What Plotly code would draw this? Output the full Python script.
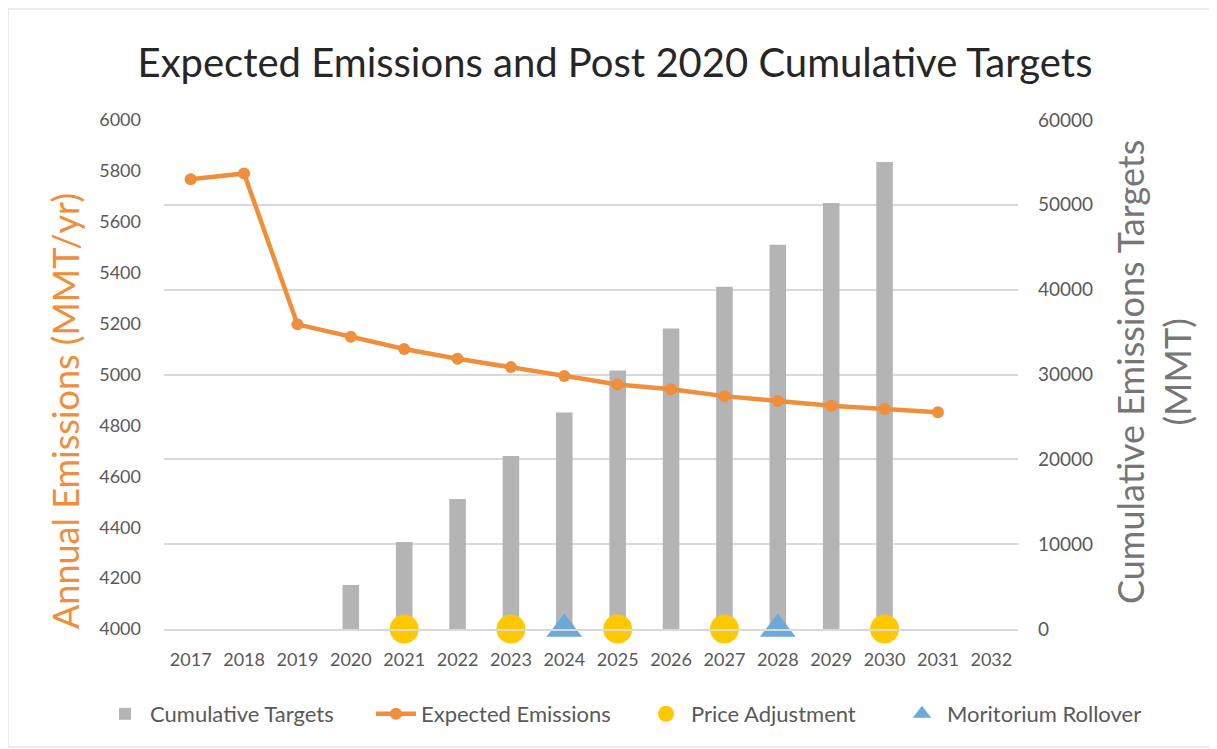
import plotly.graph_objects as go

years = [str(y) for y in range(2017, 2033)]

bar_years = ["2020", "2021", "2022", "2023", "2024", "2025", "2026", "2027", "2028", "2029", "2030"]
cumulative_targets = [5190, 10260, 15330, 20400, 25520, 30480, 35430, 40340, 45290, 50210, 55050]

line_years = [str(y) for y in range(2017, 2032)]
expected_emissions = [5767, 5790, 5197, 5148, 5100, 5062, 5029, 4994, 4961, 4942, 4915, 4896, 4877, 4864, 4852]

price_years = ["2021", "2023", "2025", "2027", "2030"]
price_vals = [4000, 4000, 4000, 4000, 4000]

rollover_years = ["2024", "2028"]
rollover_vals = [4000, 4000]

left_ticks = list(range(4000, 6001, 200))
right_ticks = list(range(0, 60001, 10000))

FONT = "Lato"
ORANGE = "#EF8E3B"
GRAY_BAR = "#B4B4B4"
YELLOW = "#FFC800"
BLUE = "#6AA9D8"
TICK = "#595959"

fig = go.Figure()

fig.add_trace(go.Bar(
    x=bar_years, y=cumulative_targets, name="Cumulative Targets",
    marker=dict(color=GRAY_BAR, line=dict(width=0)),
    width=0.31, yaxis="y", legend="legend",
))
fig.add_trace(go.Scatter(
    x=line_years, y=expected_emissions, name="Expected Emissions",
    mode="lines+markers", line=dict(color=ORANGE, width=4.5),
    marker=dict(color=ORANGE, size=12), yaxis="y2", legend="legend",
))
fig.add_trace(go.Scatter(
    x=price_years, y=price_vals, name="Price Adjustment",
    mode="markers", marker=dict(color=YELLOW, size=29, symbol="circle"),
    yaxis="y2", cliponaxis=False, legend="legend2",
))
fig.add_trace(go.Scatter(
    x=rollover_years, y=rollover_vals, name="Moritorium Rollover",
    mode="markers", marker=dict(color=BLUE, size=31, symbol="triangle-up"),
    yaxis="y2", cliponaxis=False, legend="legend2",
))

OFF = 8  # page body margin
W, H = 1209, 741
L, R, T, B = 156, 199, 112, 120
pw = W - L - R
ph = H - T - B

def px(sx):
    return (sx - OFF - L) / pw

def py(sy):
    return (H - B - (sy - OFF)) / ph

legend_common = dict(orientation="h", xanchor="left", yanchor="top",
                     font=dict(family=FONT, size=22, color=TICK),
                     itemwidth=40, traceorder="normal",
                     entrywidthmode="pixels", bgcolor="rgba(0,0,0,0)")

fig.update_layout(
    width=W, height=H,
    margin=dict(l=L, r=R, t=T, b=B),
    paper_bgcolor="white", plot_bgcolor="white",
    font=dict(family=FONT, color=TICK, size=18),
    title=dict(text="Expected Emissions and Post 2020 Cumulative Targets",
               x=px(615), xref="paper", xanchor="center",
               y=1 - (63 - OFF) / H, yanchor="middle",
               font=dict(family=FONT, size=40, color="#262626")),
    xaxis=dict(type="category", categoryorder="array", categoryarray=years,
               range=[-0.5, 15.5], showgrid=False, showline=True,
               linecolor="#D9D9D9", linewidth=1.5, ticks="",
               ticklabelstandoff=14,
               tickfont=dict(family=FONT, size=18, color=TICK)),
    yaxis=dict(range=[0, 60000], tickvals=right_ticks, tickformat="d",
               side="right",
               showgrid=True, gridcolor="#D9D9D9", gridwidth=1.5,
               zeroline=False, showline=False, ticks="",
               ticklabelstandoff=19,
               tickfont=dict(family=FONT, size=19, color=TICK)),
    yaxis2=dict(range=[4000, 6000], tickvals=left_ticks, side="left",
                overlaying="y", showgrid=False, zeroline=False,
                showline=False, ticks="", ticklabelstandoff=22,
                tickfont=dict(family=FONT, size=18, color=TICK)),
    legend=dict(x=px(100), y=py(693), entrywidth=216, **legend_common),
    legend2=dict(x=px(641), y=py(693), entrywidth=201, **legend_common),
    showlegend=True,
)

fig.add_annotation(text="Annual Emissions (MMT/yr)", textangle=-90,
                   x=px(65), y=py(411), xref="paper", yref="paper",
                   showarrow=False, xanchor="center", yanchor="middle",
                   font=dict(family=FONT, size=36, color=ORANGE))
fig.add_annotation(text="Cumulative Emissions Targets<br>(MMT)", textangle=-90,
                   x=px(1153), y=py(372), xref="paper", yref="paper",
                   showarrow=False, xanchor="center", yanchor="middle",
                   font=dict(family=FONT, size=36, color="#767676"))

fig.add_shape(type="rect", xref="paper", yref="paper",
              x0=px(8), x1=px(1215), y0=py(747), y1=py(9),
              line=dict(color="#D9D9D9", width=1), fillcolor="rgba(0,0,0,0)",
              layer="below")

fig.write_html("out.html")
